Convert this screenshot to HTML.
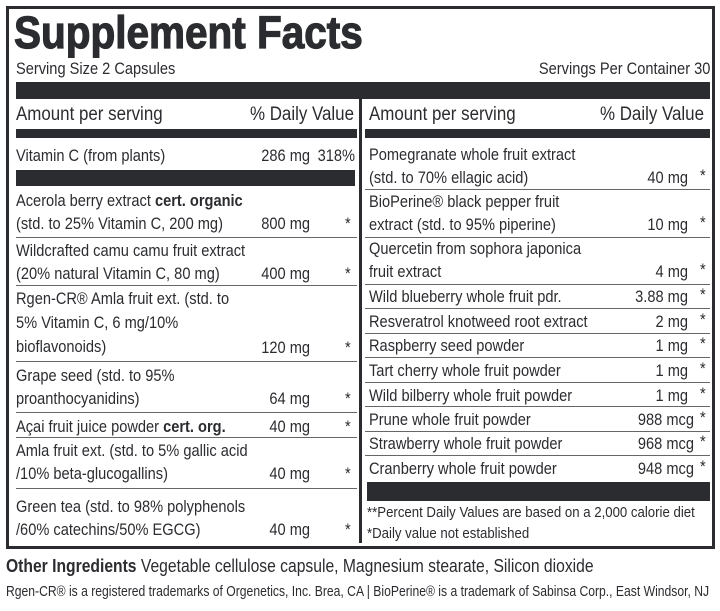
<!DOCTYPE html>
<html><head><meta charset="utf-8"><style>
*{margin:0;padding:0;box-sizing:border-box}
body{width:720px;height:611px;background:#fff;position:relative;overflow:hidden;color:#2b2c30;font-family:"Liberation Sans",sans-serif;font-size:17px}
.a{position:absolute;white-space:nowrap;line-height:23px;transform:scaleX(.86);transform-origin:left}
.r{text-align:right;transform-origin:right}
.bar{position:absolute;background:#2b2c30}
.ln{position:absolute;height:1px;background:#666}
b{font-weight:bold}
</style></head><body>
<div style="position:absolute;left:6px;top:6px;width:709px;height:543px;border:3px solid #2b2c30"></div>
<div class="a" style="left:14px;top:8px;font-weight:bold;font-size:45px;line-height:50px;transform:scaleX(0.9);-webkit-text-stroke:1.2px #2b2c30">Supplement Facts</div>
<div class="a" style="left:16px;top:57px">Serving Size 2 Capsules</div>
<div class="a r" style="right:10px;top:57px">Servings Per Container 30</div>
<div class="bar" style="left:16px;top:82px;width:694px;height:17px"></div>
<div class="bar" style="left:359px;top:99px;width:3px;height:444px"></div>
<div class="a" style="left:16px;top:103px;font-size:19px;line-height:24px;transform:scaleX(.89)">Amount per serving</div>
<div class="a r" style="left:200px;width:154px;top:103px;font-size:19px;line-height:24px;transform:scaleX(.89)">% Daily Value</div>
<div class="a" style="left:369px;top:103px;font-size:19px;line-height:24px;transform:scaleX(.89)">Amount per serving</div>
<div class="a r" style="left:550px;width:154px;top:103px;font-size:19px;line-height:24px;transform:scaleX(.89)">% Daily Value</div>
<div class="bar" style="left:16px;top:129px;width:341px;height:9px"></div>
<div class="bar" style="left:365px;top:129px;width:345px;height:9px"></div>

<div class="a" style="left:16px;top:144px">Vitamin C (from plants)</div>
<div class="a r" style="left:200px;width:110px;top:144px">286 mg</div>
<div class="a r" style="left:300px;width:55px;top:144px">318%</div>
<div class="bar" style="left:16px;top:170px;width:339px;height:16px"></div>

<div class="a" style="left:16px;top:189px">Acerola berry extract <b>cert. organic</b><br>(std. to 25% Vitamin C, 200 mg)</div>
<div class="a r" style="left:200px;width:110px;top:212px">800 mg</div>
<div class="a" style="left:345px;top:212px">*</div>
<div class="ln" style="left:16px;top:237px;width:341px"></div>

<div class="a" style="left:16px;top:239px">Wildcrafted camu camu fruit extract<br>(20% natural Vitamin C, 80 mg)</div>
<div class="a r" style="left:200px;width:110px;top:262px">400 mg</div>
<div class="a" style="left:345px;top:262px">*</div>
<div class="ln" style="left:16px;top:285px;width:341px"></div>

<div class="a" style="left:16px;top:287px;line-height:24px">Rgen-CR® Amla fruit ext. (std. to<br>5% Vitamin C, 6 mg/10%<br>bioflavonoids)</div>
<div class="a r" style="left:200px;width:110px;top:336px">120 mg</div>
<div class="a" style="left:345px;top:336px">*</div>
<div class="ln" style="left:16px;top:361px;width:341px"></div>

<div class="a" style="left:16px;top:364px">Grape seed (std. to 95%<br>proanthocyanidins)</div>
<div class="a r" style="left:200px;width:110px;top:387px">64 mg</div>
<div class="a" style="left:345px;top:387px">*</div>
<div class="ln" style="left:16px;top:412px;width:341px"></div>

<div class="a" style="left:16px;top:415px">Açai fruit juice powder <b>cert. org.</b></div>
<div class="a r" style="left:200px;width:110px;top:415px">40 mg</div>
<div class="a" style="left:345px;top:415px">*</div>
<div class="ln" style="left:16px;top:437px;width:341px"></div>

<div class="a" style="left:16px;top:439px">Amla fruit ext. (std. to 5% gallic acid<br>/10% beta-glucogallins)</div>
<div class="a r" style="left:200px;width:110px;top:462px">40 mg</div>
<div class="a" style="left:345px;top:462px">*</div>
<div class="ln" style="left:16px;top:488px;width:341px"></div>

<div class="a" style="left:16px;top:495px">Green tea (std. to 98% polyphenols<br>/60% catechins/50% EGCG)</div>
<div class="a r" style="left:200px;width:110px;top:518px">40 mg</div>
<div class="a" style="left:345px;top:518px">*</div>

<div class="a" style="left:369px;top:143px">Pomegranate whole fruit extract<br>(std. to 70% ellagic acid)</div>
<div class="a r" style="left:580px;width:108px;top:166px">40 mg</div>
<div class="a" style="left:700px;top:164px">*</div>
<div class="ln" style="left:365px;top:189px;width:345px"></div>

<div class="a" style="left:369px;top:190px">BioPerine® black pepper fruit<br>extract (std. to 95% piperine)</div>
<div class="a r" style="left:580px;width:108px;top:213px">10 mg</div>
<div class="a" style="left:700px;top:211px">*</div>
<div class="ln" style="left:365px;top:237px;width:345px"></div>

<div class="a" style="left:369px;top:237px">Quercetin from sophora japonica<br>fruit extract</div>
<div class="a r" style="left:580px;width:108px;top:260px">4 mg</div>
<div class="a" style="left:700px;top:258px">*</div>

<div class="ln" style="left:365px;top:284px;width:345px"></div>
<div class="a" style="left:369px;top:285px">Wild blueberry whole fruit pdr.</div>
<div class="a r" style="left:580px;width:108px;top:285px">3.88 mg</div>
<div class="a" style="left:700px;top:283px">*</div>
<div class="ln" style="left:365px;top:308px;width:345px"></div>
<div class="a" style="left:369px;top:310px">Resveratrol knotweed root extract</div>
<div class="a r" style="left:580px;width:108px;top:310px">2 mg</div>
<div class="a" style="left:700px;top:308px">*</div>
<div class="ln" style="left:365px;top:333px;width:345px"></div>
<div class="a" style="left:369px;top:334px">Raspberry seed powder</div>
<div class="a r" style="left:580px;width:108px;top:334px">1 mg</div>
<div class="a" style="left:700px;top:332px">*</div>
<div class="ln" style="left:365px;top:357px;width:345px"></div>
<div class="a" style="left:369px;top:359px">Tart cherry whole fruit powder</div>
<div class="a r" style="left:580px;width:108px;top:359px">1 mg</div>
<div class="a" style="left:700px;top:357px">*</div>
<div class="ln" style="left:365px;top:382px;width:345px"></div>
<div class="a" style="left:369px;top:384px">Wild bilberry whole fruit powder</div>
<div class="a r" style="left:580px;width:108px;top:384px">1 mg</div>
<div class="a" style="left:700px;top:382px">*</div>
<div class="ln" style="left:365px;top:406px;width:345px"></div>
<div class="a" style="left:369px;top:408px">Prune whole fruit powder</div>
<div class="a r" style="left:580px;width:114px;top:408px">988 mcg</div>
<div class="a" style="left:700px;top:406px">*</div>
<div class="ln" style="left:365px;top:431px;width:345px"></div>
<div class="a" style="left:369px;top:432px">Strawberry whole fruit powder</div>
<div class="a r" style="left:580px;width:114px;top:432px">968 mcg</div>
<div class="a" style="left:700px;top:430px">*</div>
<div class="ln" style="left:365px;top:455px;width:345px"></div>
<div class="a" style="left:369px;top:457px">Cranberry whole fruit powder</div>
<div class="a r" style="left:580px;width:114px;top:457px">948 mcg</div>
<div class="a" style="left:700px;top:455px">*</div>
<div class="bar" style="left:367px;top:482px;width:343px;height:19px"></div>
<div class="a" style="left:367px;top:502px;font-size:15px;line-height:21px;transform:scaleX(.88)">**Percent Daily Values are based on a 2,000 calorie diet<br>*Daily value not established</div>

<div class="a" style="left:6px;top:555px;font-size:18px;transform:scaleX(.87)"><b>Other Ingredients</b> Vegetable cellulose capsule, Magnesium stearate, Silicon dioxide</div>
<div class="a" style="left:6px;top:580px;font-size:15px;transform:scaleX(.81)">Rgen-CR® is a registered trademarks of Orgenetics, Inc. Brea, CA | BioPerine® is a trademark of Sabinsa Corp., East Windsor, NJ</div>
</body></html>
